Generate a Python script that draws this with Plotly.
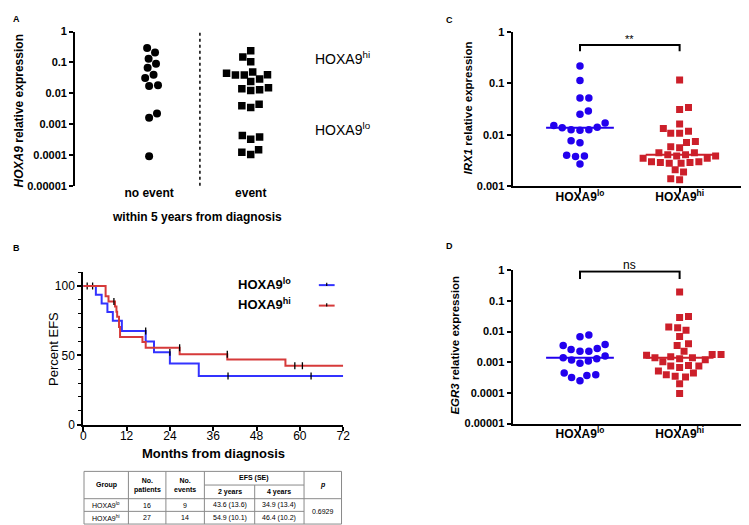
import numpy as np
import plotly.graph_objects as go

W, H = 749, 525
FONT = "Liberation Sans, Arial, sans-serif"
BLUE = "#2200EE"
RED = "#CC1F2A"
KM_BLUE = "#3333FF"
KM_RED = "#D63A3A"

# ---------------- data ----------------
# Panel A: HOXA9 relative expression by event status
a_categories = ["no event", "event"]
a_no_event = [0.29, 0.21, 0.13, 0.09, 0.067, 0.04, 0.031, 0.017, 0.018, 0.0022, 0.0016, 0.00009]
a_event = [0.24, 0.15, 0.105, 0.044, 0.039, 0.039, 0.040, 0.049, 0.029, 0.024, 0.015, 0.013,
           0.0123, 0.0139, 0.0044, 0.0034, 0.0039, 0.00038, 0.00032, 0.00042, 0.000145,
           0.000103, 0.000122]
a_cutoff = 0.008
log_ticks5 = [1, 0.1, 0.01, 0.001, 0.0001, 0.00001]
log_ticktext5 = ["1", "0.1", "0.01", "0.001", "0.0001", "0.00001"]

# Panel B: Kaplan-Meier EFS
km_lo_t = [0, 3.5, 5.1, 6.7, 8.2, 10.7, 17.3, 19.6, 24.0, 32.0, 72]
km_lo_s = [100, 93.8, 87.5, 81.3, 75.0, 67.6, 59.9, 52.3, 44.1, 35.0, 35.0]
km_lo_cens = [1.1, 2.6, 17.3, 24.0, 40.1, 63.1]
km_hi_t = [0, 6.2, 7.0, 8.8, 9.2, 9.4, 9.9, 10.2, 16.4, 17.3, 26.7, 39.9, 56.0, 72]
km_hi_s = [100, 92.6, 88.9, 85.2, 81.5, 77.8, 70.4, 63.2, 59.6, 55.4, 50.7, 47.0, 42.5, 42.5]
km_hi_cens = [8.5, 26.7, 39.9, 58.6, 60.7]
km_xticks = [0, 12, 24, 36, 48, 60, 72]
km_yticks = [0, 50, 100]

# Table under panel B
tbl_groups = ["HOXA9<sup>lo</sup>", "HOXA9<sup>hi</sup>"]
tbl_patients = ["16", "27"]
tbl_events = ["9", "14"]
tbl_efs2 = ["43.6 (13.6)", "54.9 (10.1)"]
tbl_efs4 = ["34.9 (13.4)", "46.4 (10.2)"]
tbl_p = "0.6929"

# Panels C / D
grp_categories = ["HOXA9<sup>lo</sup>", "HOXA9<sup>hi</sup>"]
c_lo = [0.217, 0.113, 0.052, 0.052, 0.029, 0.025, 0.017, 0.0141, 0.0126, 0.0123, 0.0126,
        0.0137, 0.0152, 0.0077, 0.0070, 0.0039, 0.0038, 0.0040, 0.0027]
c_hi = [0.116, 0.034, 0.031, 0.0163, 0.0118, 0.0107, 0.0107, 0.0133, 0.0074, 0.0071,
        0.0059, 0.0056, 0.0045, 0.0045, 0.0041, 0.0039, 0.0039, 0.0041, 0.0035, 0.0035,
        0.0030, 0.0029, 0.0028, 0.0028, 0.0029, 0.0030, 0.0019, 0.0021, 0.00134, 0.0014]
d_lo = [0.0077, 0.0068, 0.0035, 0.0026, 0.0023, 0.0023, 0.0028, 0.0038, 0.0016, 0.0013,
        0.0011, 0.00093, 0.00118, 0.0014, 0.00045, 0.00037, 0.00025, 0.00032, 0.00039]
d_hi = [0.196, 0.031, 0.029, 0.014, 0.0134, 0.011, 0.0069, 0.0040, 0.0035, 0.0023,
        0.0017, 0.0014, 0.0014, 0.0018, 0.0018, 0.0012, 0.00104, 0.0013, 0.0015, 0.00076,
        0.00078, 0.00076, 0.00067, 0.00052, 0.00045, 0.00033, 0.00039, 0.00035, 0.0002, 0.000095]
c_ticks = [1, 0.1, 0.01, 0.001]
c_ticktext = ["1", "0.1", "0.01", "0.001"]
c_sig = "**"
d_sig = "ns"


# ---------------- helpers ----------------
def px_x(x):
    return x / W


def px_y(y):
    return 1 - y / H


def swarm_x(values, center, px_dec, px_unit, diam):
    ys = np.log10(np.asarray(values, float)) * px_dec
    placed = []
    xs = np.zeros(len(ys))
    for n, i in enumerate(np.argsort(ys)):
        k = 0
        while True:
            sgn = 1 if n % 2 == 0 else -1
            cands = [0.0] if k == 0 else [sgn * k * 0.5, -sgn * k * 0.5]
            ok = None
            for c in cands:
                if all((c - px) ** 2 + (ys[i] - py) ** 2 >= diam ** 2 for px, py in placed):
                    ok = c
                    break
            if ok is not None:
                break
            k += 1
        xs[i] = ok
        placed.append((ok, ys[i]))
    return center + xs / px_unit


def step_value(times, surv, t):
    idx = max(i for i, tt in enumerate(times) if tt < t or (tt == 0 and t == 0))
    return surv[idx]


fig = go.Figure()

# ---------------- Panel A ----------------
fig.add_trace(go.Scatter(x=swarm_x(a_no_event, 0, 31.6, 103, 9.0), y=a_no_event, mode="markers",
                         marker=dict(symbol="circle", size=8, color="black"),
                         xaxis="x", yaxis="y", showlegend=False))
fig.add_trace(go.Scatter(x=swarm_x(a_event, 1, 31.6, 103, 9.0), y=a_event, mode="markers",
                         marker=dict(symbol="square", size=7.5, color="black"),
                         xaxis="x", yaxis="y", showlegend=False))
fig.add_shape(type="line", xref="x domain", yref="y", x0=0, x1=1,
              y0=np.log10(a_cutoff), y1=np.log10(a_cutoff),
              line=dict(color="black", width=1.5, dash="dot"))
fig.add_shape(type="line", xref="x", yref="y domain", x0=0.5, x1=0.5, y0=0, y1=1,
              line=dict(color="black", width=1.5, dash="dot"))

# ---------------- Panel B ----------------
for t, s, cens, col in [(km_lo_t, km_lo_s, km_lo_cens, KM_BLUE),
                        (km_hi_t, km_hi_s, km_hi_cens, KM_RED)]:
    fig.add_trace(go.Scatter(x=t, y=s, mode="lines", line=dict(shape="hv", color=col, width=2),
                             xaxis="x2", yaxis="y2", showlegend=False))
    fig.add_trace(go.Scatter(x=cens, y=[step_value(t, s, c) for c in cens], mode="markers",
                             marker=dict(symbol="line-ns", size=5, line=dict(color="black", width=1.3)),
                             xaxis="x2", yaxis="y2", showlegend=False))

# ---------------- Panels C / D ----------------
for lo, hi, xa, ya, pxd in [(c_lo, c_hi, "x3", "y3", 52.8), (d_lo, d_hi, "x4", "y4", 31.5)]:
    fig.add_trace(go.Scatter(x=swarm_x(lo, 0, pxd, 101, 8.8), y=lo, mode="markers",
                             marker=dict(symbol="circle", size=7.5, color=BLUE),
                             xaxis=xa, yaxis=ya, showlegend=False))
    fig.add_trace(go.Scatter(x=swarm_x(hi, 1, pxd, 101, 8.8), y=hi, mode="markers",
                             marker=dict(symbol="square", size=7, color=RED),
                             xaxis=xa, yaxis=ya, showlegend=False))
    for i, (vals, col) in enumerate([(lo, BLUE), (hi, RED)]):
        med = float(np.median(vals))
        fig.add_trace(go.Scatter(x=[i - 0.34, i + 0.34], y=[med, med], mode="lines",
                                 line=dict(color=col, width=2), xaxis=xa, yaxis=ya,
                                 showlegend=False))

# significance brackets
fig.add_trace(go.Scatter(x=[0, 0, 1, 1], y=[0.42, 0.557, 0.557, 0.42], mode="lines",
                         line=dict(color="black", width=2), xaxis="x3", yaxis="y3",
                         showlegend=False))
fig.add_trace(go.Scatter(x=[0, 0, 1, 1], y=[0.52, 0.91, 0.91, 0.52], mode="lines",
                         line=dict(color="black", width=2), xaxis="x4", yaxis="y4",
                         showlegend=False, cliponaxis=False))

# ---------------- axes ----------------
ax_common = dict(showgrid=False, zeroline=False, linecolor="black", linewidth=2,
                 tickcolor="black", tickwidth=1.5, ticklen=4)
boldtick = dict(family=FONT, size=11, color="black", weight="bold")

fig.update_layout(
    xaxis=dict(domain=[px_x(65), px_x(313)], range=[-0.728, 1.68], anchor="y",
               tickvals=[0, 1], ticktext=a_categories, ticks="", showline=False,
               tickfont=dict(family=FONT, size=12, color="black", weight="bold"),
               showgrid=False, zeroline=False, ticklabelstandoff=-2),
    yaxis=dict(domain=[px_y(176), px_y(18)], type="log", range=[-5, 0], anchor="x",
               tickvals=log_ticks5, ticktext=log_ticktext5, ticks="outside", showline=True,
               tickfont=boldtick, **ax_common),
    xaxis2=dict(domain=[px_x(73.2), px_x(336.7)], range=[0, 72], anchor="y2",
                tickvals=km_xticks, ticks="outside", showline=True, ticklabelstandoff=-5,
                tickfont=dict(family=FONT, size=12, color="black"), **ax_common),
    yaxis2=dict(domain=[px_y(421), px_y(264.8)], range=[0, 110], anchor="x2",
                tickvals=km_yticks, ticks="outside", showline=True,
                minor=dict(dtick=10, ticklen=3, tickcolor="black", tickwidth=1.2, ticks="outside"),
                tickfont=dict(family=FONT, size=12, color="black"), **ax_common),
    xaxis3=dict(domain=[px_x(508.3), px_x(743)], range=[-0.677, 1.647], anchor="y3",
                tickvals=[0, 1], ticktext=grp_categories, ticks="outside", showline=True,
                ticklabelstandoff=-6,
                tickfont=dict(family=FONT, size=12, color="black", weight="bold"), **ax_common),
    yaxis3=dict(domain=[px_y(176.7), px_y(18.3)], type="log", range=[-3, 0], anchor="x3",
                tickvals=c_ticks, ticktext=c_ticktext, ticks="outside", showline=True,
                tickfont=boldtick, **ax_common),
    xaxis4=dict(domain=[px_x(508.3), px_x(743)], range=[-0.677, 1.647], anchor="y4",
                tickvals=[0, 1], ticktext=grp_categories, ticks="outside", showline=True,
                ticklabelstandoff=-6,
                tickfont=dict(family=FONT, size=12, color="black", weight="bold"), **ax_common),
    yaxis4=dict(domain=[px_y(420), px_y(262.7)], type="log", range=[-5, 0], anchor="x4",
                tickvals=log_ticks5, ticktext=log_ticktext5, ticks="outside", showline=True,
                tickfont=boldtick, **ax_common),
)

# ---------------- text ----------------
ann = []


def text(x, y, s, size=11, bold=False, angle=0, xanchor="center", yanchor="middle", italic=False):
    ann.append(dict(x=px_x(x), y=px_y(y), xref="paper", yref="paper", text=s, showarrow=False,
                    textangle=angle, xanchor=xanchor, yanchor=yanchor,
                    font=dict(family=FONT, size=size, color="black",
                              weight="bold" if bold else "normal",
                              style="italic" if italic else "normal")))


for letter, x, y in [("A", 6, 5), ("B", 6, 240), ("C", 444, 6), ("D", 444, 238)]:
    text(x, y, letter, size=9, bold=True)

# Panel A
text(8, 99, "<i>HOXA9</i> relative expression", size=12, bold=True, angle=-90)
text(189, 208, "within 5 years from diagnosis", size=12, bold=True)
text(306, 45, "HOXA9<sup>hi</sup>", size=14, xanchor="left")
text(306, 118, "HOXA9<sup>lo</sup>", size=14, xanchor="left")

# Panel B
text(43, 343, "Percent EFS", size=13, angle=-90)
text(205, 451, "Months from diagnosis", size=13, bold=True)
text(228, 277, "HOXA9<sup>lo</sup>", size=13, bold=True, xanchor="left")
text(228, 297, "HOXA9<sup>hi</sup>", size=13, bold=True, xanchor="left")
shapes = []
for y, col in [(278, KM_BLUE), (299, KM_RED)]:
    shapes.append(dict(type="line", xref="paper", yref="paper", x0=px_x(312), x1=px_x(328),
                       y0=px_y(y), y1=px_y(y), line=dict(color=col, width=2)))
    shapes.append(dict(type="line", xref="paper", yref="paper", x0=px_x(320), x1=px_x(320),
                       y0=px_y(y - 2.5), y1=px_y(y + 1), line=dict(color="black", width=1.2)))

# Panels C / D
text(463, 96, "<i>IRX1</i> relative expression", size=11.5, bold=True, angle=-90)
text(450, 339, "<i>EGR3</i> relative expression", size=11.5, bold=True, angle=-90)
text(627, 26, c_sig, size=11)
text(627, 257, d_sig, size=12)

# Table
cols = [74, 119, 157, 196, 247, 297, 335]
rows = [469, 483, 497, 510, 523]
TC = "#8a8a8a"


def hline(x0, x1, y):
    shapes.append(dict(type="line", xref="paper", yref="paper", x0=px_x(x0), x1=px_x(x1),
                       y0=px_y(y), y1=px_y(y), line=dict(color=TC, width=1)))


def vline(x, y0, y1):
    shapes.append(dict(type="line", xref="paper", yref="paper", x0=px_x(x), x1=px_x(x),
                       y0=px_y(y0), y1=px_y(y1), line=dict(color=TC, width=1)))


hline(cols[0], cols[-1], rows[0])
hline(cols[3], cols[5], rows[1])
hline(cols[0], cols[-1], rows[2])
hline(cols[0], cols[5], rows[3])
hline(cols[0], cols[-1], rows[4])
for c in [cols[0], cols[1], cols[2], cols[3], cols[5], cols[6]]:
    vline(c, rows[0], rows[4])
vline(cols[4], rows[1], rows[4])

mid = lambda a, b: (a + b) / 2
TS = 7
text(mid(cols[0], cols[1]), mid(rows[0], rows[2]), "Group", size=TS, bold=True)
text(mid(cols[1], cols[2]), mid(rows[0], rows[2]), "No.<br>patients", size=TS, bold=True)
text(mid(cols[2], cols[3]), mid(rows[0], rows[2]), "No.<br>events", size=TS, bold=True)
text(mid(cols[3], cols[5]), mid(rows[0], rows[1]), "EFS (SE)", size=TS, bold=True)
text(mid(cols[3], cols[4]), mid(rows[1], rows[2]), "2 years", size=TS, bold=True)
text(mid(cols[4], cols[5]), mid(rows[1], rows[2]), "4 years", size=TS, bold=True)
text(mid(cols[5], cols[6]), mid(rows[0], rows[2]), "p", size=TS, bold=True, italic=True)
for r in range(2):
    yc = mid(rows[2 + r], rows[3 + r])
    text(mid(cols[0], cols[1]), yc, tbl_groups[r], size=TS)
    text(mid(cols[1], cols[2]), yc, tbl_patients[r], size=TS)
    text(mid(cols[2], cols[3]), yc, tbl_events[r], size=TS)
    text(mid(cols[3], cols[4]), yc, tbl_efs2[r], size=TS)
    text(mid(cols[4], cols[5]), yc, tbl_efs4[r], size=TS)
text(mid(cols[5], cols[6]), mid(rows[2], rows[4]), tbl_p, size=TS)

fig.update_layout(
    width=W, height=H, margin=dict(l=0, r=0, t=0, b=0),
    paper_bgcolor="white", plot_bgcolor="white",
    font=dict(family=FONT, color="black"),
    annotations=ann,
)
for s in shapes:
    fig.add_shape(**s)

fig.write_html("out.html")
